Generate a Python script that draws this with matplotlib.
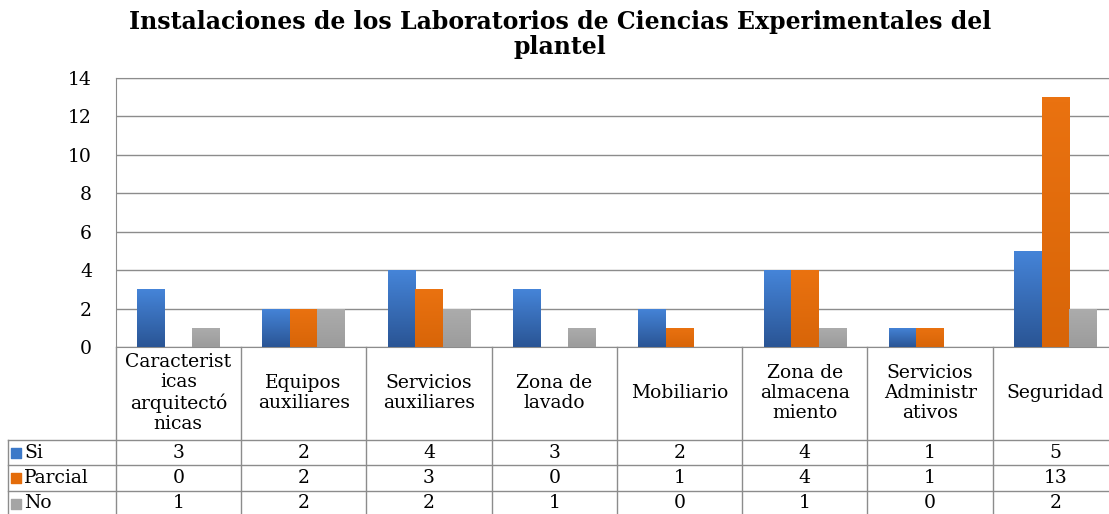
import numpy as np
import matplotlib
matplotlib.use("Agg")
import matplotlib.pyplot as plt
from matplotlib.colors import LinearSegmentedColormap

plt.rcParams.update({"font.family": "DejaVu Serif"})

#%%
# Datos
categories = ["Caracterist\nicas\narquitectó\nnicas", "Equipos\nauxiliares",
              "Servicios\nauxiliares", "Zona de\nlavado", "Mobiliario",
              "Zona de\nalmacena\nmiento", "Servicios\nAdministr\nativos",
              "Seguridad"]
series_names = ["Si", "Parcial", "No"]
si = [3, 2, 4, 3, 2, 4, 1, 5]
parcial = [0, 2, 3, 0, 1, 4, 1, 13]
no = [1, 2, 2, 1, 0, 1, 0, 2]
yticks = [0, 2, 4, 6, 8, 10, 12, 14]

title = "Instalaciones de los Laboratorios de Ciencias Experimentales del\nplantel"

colors = ["#3b78c8", "#e46c0a", "#a5a5a5"]
grad_top = ["#4584d8", "#ea7210", "#acacac"]
grad_bot = ["#2a5595", "#d86508", "#9c9c9c"]
line_color = "#8c8c8c"

#%%
W, H = 1109, 514
fig = plt.figure(figsize=(W/100, H/100), dpi=100)

x0 = 115.7
cw = 125.3
y_top, y_zero = 78, 347
ax = fig.add_axes([x0/W, 1-y_zero/H, 8*cw/W, (y_zero-y_top)/H])

x = np.arange(len(categories))
bw = 0.22
values = [si, parcial, no]
for k, vals in enumerate(values):
    bars = ax.bar(x+(k-1)*bw, vals, width=bw, color=colors[k], zorder=2)
    cmap = LinearSegmentedColormap.from_list("g%d" % k, [grad_bot[k], grad_top[k]])
    for b in bars:
        if b.get_height() <= 0:
            continue
        bx, by = b.get_x(), b.get_y()
        im = ax.imshow(np.linspace(0, 1, 50).reshape(-1, 1), cmap=cmap,
                       origin="lower", aspect="auto", zorder=3,
                       extent=[bx, bx+b.get_width(), by, by+b.get_height()])
        im.set_clip_path(b)

ax.set_xlim(-0.5, len(categories)-0.5)
ax.set_ylim(0, 14)
ax.set_yticks(yticks)
ax.set_yticklabels([str(v) for v in yticks], fontsize=13.5)
ax.tick_params(axis="y", length=0, pad=17)
ax.set_xticks([])
ax.yaxis.grid(True, color=line_color, linewidth=1, zorder=0)
for s in ["left", "bottom", "top"]:
    ax.spines[s].set_color(line_color)
ax.spines["right"].set_visible(False)

fig.text(560/W, 1-10/H, title, ha="center", va="top", fontsize=17,
         fontweight="bold", linespacing=1.05)

#%%
# Tabla de datos
tab = fig.add_axes([x0/W, 0, 8*cw/W, (H-y_zero)/H])
tab.set_xlim(-0.5, len(categories)-0.5)
tab.set_ylim(H-y_zero, 0)
tab.axis("off")

leg_left = -0.5-(x0-8)/cw
row_lines = [93, 118, 144]
row_centers = [105.5, 131, 156.5]
right = len(categories)-0.5

for i in range(len(categories)+1):
    tab.plot([i-0.5, i-0.5], [0, H-y_zero], color=line_color, lw=1, clip_on=False)
tab.plot([leg_left, leg_left], [row_lines[0], H-y_zero], color=line_color, lw=1, clip_on=False)
for yl in row_lines:
    tab.plot([leg_left, right], [yl, yl], color=line_color, lw=1, clip_on=False)

for i, c in enumerate(categories):
    tab.text(i, 46, c, ha="center", va="center", fontsize=13.5, linespacing=1.15)

for k, vals in enumerate(values):
    yc = row_centers[k]
    tab.scatter([leg_left+0.06], [yc], marker="s", s=45, color=colors[k], clip_on=False)
    tab.text(leg_left+0.13, yc, series_names[k], ha="left", va="center", fontsize=13.5)
    for i, v in enumerate(vals):
        tab.text(i, yc, str(v), ha="center", va="center", fontsize=13.5)

fig.savefig("out.png", dpi=100)
